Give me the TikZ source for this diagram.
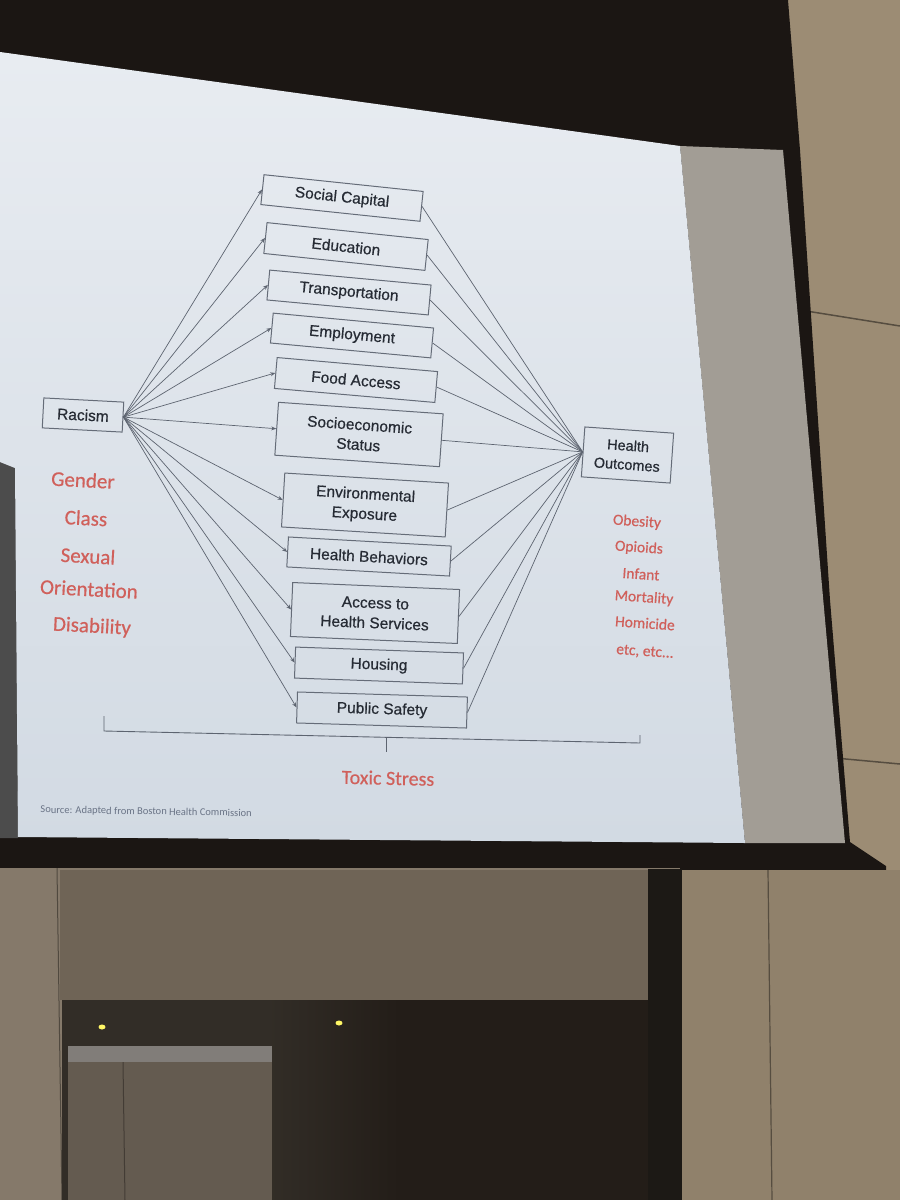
\documentclass[tikz,border=0pt]{standalone}
\usepackage{fontspec}
\setmainfont{Liberation Sans}
\newfontfamily\boxfont[FakeBold=0.6]{Liberation Sans}
\newfontfamily\redfont[FakeBold=0.5]{Carlito}
\newfontfamily\srcfont{Carlito}
\usetikzlibrary{arrows.meta}
\definecolor{housing}{HTML}{1B1613}
\definecolor{wallR}{HTML}{9C8C74}
\definecolor{wallL}{HTML}{85796A}
\definecolor{panel}{HTML}{6F6456}
\definecolor{doorway}{HTML}{231D18}
\definecolor{margin}{HTML}{A29D95}
\definecolor{slidetop}{HTML}{E8ECF1}
\definecolor{slidebot}{HTML}{D2DAE3}
\definecolor{boxline}{HTML}{656C78}
\definecolor{boxtext}{HTML}{262B34}
\definecolor{connc}{HTML}{5D6470}
\definecolor{redtxt}{HTML}{D0605B}
\definecolor{srctxt}{HTML}{6A7486}
\tikzset{
  stepbox/.style={draw=boxline, line width=1pt, inner sep=1pt, align=center,
    text=boxtext, font=\boxfont\fontsize{15.5}{20}\selectfont},
  conn/.style={draw=connc, line width=0.7pt},
  arr/.style={conn, -{Stealth[length=5pt,width=4pt]}},
  redbig/.style={text=redtxt, font=\redfont\fontsize{21}{24}\selectfont, inner sep=0pt},
  redsmall/.style={text=redtxt, font=\redfont\fontsize{15.5}{18}\selectfont, inner sep=0pt},
}
\begin{document}
\begin{tikzpicture}[x=1pt,y=-1pt]
\useasboundingbox (0,0) rectangle (900,1200);
% ---------- room background ----------
\fill[wallR] (0,0) rectangle (900,1200);
\draw[black!45!wallR, line width=1.5pt] (800,310) -- (900,326);
\draw[black!45!wallR, line width=1.5pt] (835,758) -- (900,764);
% screen housing
\fill[housing] (0,0) -- (788,0) -- (800,150) -- (830,600) -- (850,842) -- (886,866) -- (886,872) -- (0,868) -- cycle;
% grey unused screen margin
\fill[margin] (680,146) -- (783,150) -- (845,843) -- (745,843) -- cycle;
% left dark strip
\fill[black!70] (0,460) -- (16,466) -- (18,838) -- (0,838) -- cycle;
% slide
\shade[top color=slidetop, bottom color=slidebot] (0,52) -- (680,146) -- (745,843) -- (18,837) -- (15,468) -- (0,462) -- cycle;
% wall below screen
\fill[wallL] (0,868) rectangle (680,1200);
\fill[panel] (60,870) rectangle (650,1000);
\fill[black!75!panel] (648,869) rectangle (682,1200);
\fill[wallR!92!black] (682,870) rectangle (900,1200);
\draw[black!45!wallR, line width=1.2pt] (768,870) -- (772,1200);
\draw[black!40!wallL, line width=1pt] (57,868) -- (62,1200);
\fill[black!55!panel] (62,1000) rectangle (400,1200);
\fill[doorway] (400,1000) rectangle (648,1200);
\shade[left color=black!55!panel, right color=doorway] (270,1000) rectangle (400,1200);
\fill[black!25!wallL] (68,1062) rectangle (272,1200);
\draw[black!50!wallL, line width=1pt] (123,1062) -- (125,1200);
\fill[gray!70!wallL] (68,1046) rectangle (272,1062);
\fill[yellow!60!white] (102,1027) ellipse (3.5 and 2.5);
\fill[yellow!60!white] (339,1023) ellipse (3.5 and 2.5);
% ---------- diagram ----------
\node[stepbox, minimum width=80pt, minimum height=30pt, rotate=-3] (rac) at (83,415) {Racism};
\node[stepbox, minimum width=160pt, minimum height=30pt, rotate=-6] (sc) at (342,198) {Social Capital};
\node[stepbox, minimum width=162pt, minimum height=31pt, rotate=-6] (ed) at (346,246.5) {Education};
\node[stepbox, minimum width=162pt, minimum height=30pt, rotate=-5.3] (tr) at (349,292.5) {Transportation};
\node[stepbox, minimum width=161pt, minimum height=30pt, rotate=-5.3] (em) at (352,335.5) {Employment};
\node[stepbox, minimum width=161pt, minimum height=31pt, rotate=-5] (fa) at (356,380) {Food Access};
\node[stepbox, minimum width=165pt, minimum height=53pt, rotate=-4] (ses) at (359,434.5) {Socioeconomic\\Status};
\node[stepbox, minimum width=164pt, minimum height=54pt, rotate=-3.5] (env) at (365,505) {Environmental\\Exposure};
\node[stepbox, minimum width=163pt, minimum height=30pt, rotate=-3.2] (hb) at (369,556.5) {Health Behaviors};
\node[stepbox, minimum width=167pt, minimum height=54pt, rotate=-2.4] (ahs) at (375,613) {Access to\\Health Services};
\node[stepbox, minimum width=168pt, minimum height=31pt, rotate=-2] (hou) at (379,665.5) {Housing};
\node[stepbox, minimum width=170pt, minimum height=31pt, rotate=-1.7] (ps) at (382,710) {Public Safety};
\node[stepbox, minimum width=89pt, minimum height=50pt, rotate=-4, font=\boxfont\fontsize{14.5}{19}\selectfont] (out) at (627.5,455) {Health\\Outcomes};
\foreach \n in {sc,ed,tr,em,fa,ses,env,hb,ahs,hou,ps}{
  \draw[arr] (rac.east) -- (\n.west);
  \draw[conn] (\n.east) -- (out.west);
}
% red lists
\node[redbig, rotate=-3] (g1) at (83,480) {Gender};
\node[redbig, rotate=-3] (g2) at (86,518) {Class};
\node[redbig, rotate=-3] (g3) at (88,556) {Sexual};
\node[redbig, rotate=-3] (g4) at (89,589) {Orientation};
\node[redbig, rotate=-3] (g5) at (92,627) {Disability};
\node[redsmall, rotate=-4] (o1) at (637,522) {Obesity};
\node[redsmall, rotate=-4] (o2) at (639,548) {Opioids};
\node[redsmall, rotate=-4] (o3) at (641,574) {Infant};
\node[redsmall, rotate=-4] (o4) at (644,598) {Mortality};
\node[redsmall, rotate=-4] (o5) at (645,623) {Homicide};
\node[redsmall, rotate=-4] (o6) at (645,652) {etc, etc...};
% bracket
\coordinate (bl) at (104,716);
\coordinate (blc) at (104,731);
\coordinate (brc) at (640,743);
\coordinate (br) at (640,735);
\draw[conn, line width=0.9pt] (bl) -- (blc) -- (brc) -- (br);
\coordinate (bm) at (386,737.5);
\coordinate (bmd) at (386,752);
\draw[conn] (bm) -- (bmd);
\node[text=redtxt, font=\redfont\fontsize{20}{24}\selectfont, rotate=-1.3] (ts) at (388,778) {Toxic Stress};
\node[anchor=west, text=srctxt, font=\srcfont\fontsize{10.5}{12}\selectfont, rotate=-1] (src) at (37,810) {Source: Adapted from Boston Health Commission};
\end{tikzpicture}
\end{document}
